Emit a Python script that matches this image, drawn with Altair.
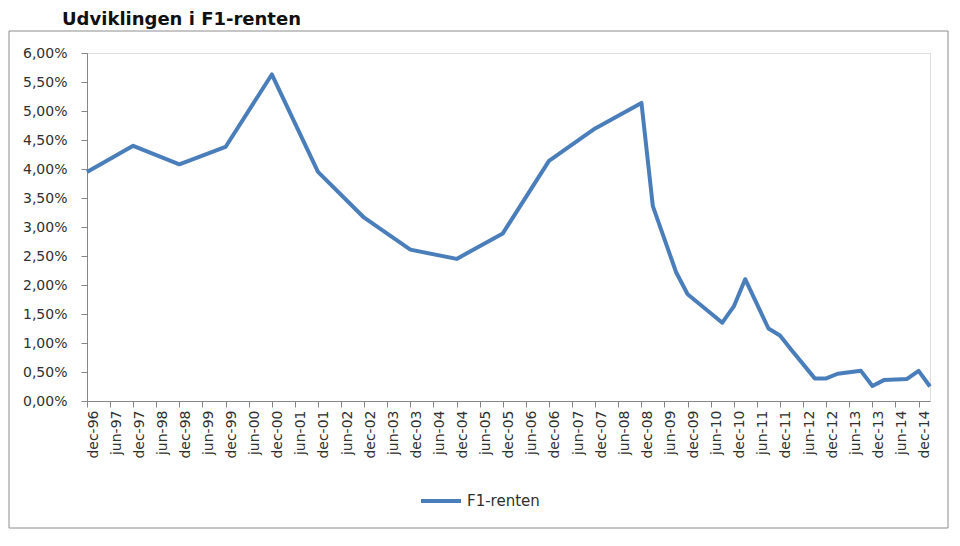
import altair as alt
import pandas as pd

# ---- data ----
dates = [
    "1996-12-01", "1997-12-01", "1998-12-01", "1999-12-01", "2000-12-01",
    "2001-12-01", "2002-12-01", "2003-12-01", "2004-12-01", "2005-12-01",
    "2006-12-01", "2007-12-01", "2008-12-01", "2009-03-01", "2009-09-01",
    "2009-12-01", "2010-09-01", "2010-12-01", "2011-03-01", "2011-09-01",
    "2011-12-01", "2012-03-01", "2012-09-01", "2012-12-01", "2013-03-01",
    "2013-09-01", "2013-12-01", "2014-03-01", "2014-09-01", "2014-12-01",
    "2015-03-01",
]
rates = [
    3.95, 4.40, 4.08, 4.38, 5.63,
    3.95, 3.16, 2.61, 2.45, 2.89,
    4.14, 4.70, 5.14, 3.36, 2.22,
    1.84, 1.35, 1.63, 2.10, 1.25,
    1.13, 0.88, 0.39, 0.39, 0.47,
    0.52, 0.26, 0.36, 0.38, 0.52,
    0.25,
]
series_name = "F1-renten"
title_text = "Udviklingen i F1-renten"
tick_dates = [f"{y}-{m:02d}-01" for y in range(1996, 2015) for m in (6, 12)][1:]
y_ticks = [0, 0.005, 0.01, 0.015, 0.02, 0.025, 0.03, 0.035, 0.04, 0.045, 0.05, 0.055, 0.06]
x_start, x_end = "1996-12-01", "2015-03-01"

df = pd.DataFrame({"date": dates, "rate": [r / 100 for r in rates], "series": series_name})


def ms(s):
    return int(pd.Timestamp(s, tz="UTC").value // 10**6)


FONT = "DejaVu Sans"
AXIS_GRAY = "#868686"
TEXT = "#303030"
LINE = "#4a7ebb"

line = alt.Chart(df).mark_line(strokeWidth=4, strokeJoin="round").encode(
    x=alt.X(
        "date:T",
        scale=alt.Scale(type="utc", domain=[ms(x_start), ms(x_end)]),
        axis=alt.Axis(
            title=None,
            values=[ms(d) for d in tick_dates],
            labelExpr="lower(utcFormat(datum.value, '%b-%y'))",
            labelAngle=-90,
            labelOffset=6,
            labelPadding=3,
            labelFont=FONT,
            labelFontSize=14,
            labelColor=TEXT,
            tickSize=6,
            tickColor=AXIS_GRAY,
            domainColor=AXIS_GRAY,
            grid=False,
            labelOverlap=False,
        ),
    ),
    y=alt.Y(
        "rate:Q",
        scale=alt.Scale(domain=[0, 0.06], nice=False, zero=True),
        axis=alt.Axis(
            title=None,
            values=y_ticks,
            labelExpr="replace(format(datum.value, '.2%'), '.', ',')",
            labelFont=FONT,
            labelFontSize=14,
            labelColor=TEXT,
            labelPadding=14,
            tickSize=6,
            tickColor=AXIS_GRAY,
            domainColor=AXIS_GRAY,
            grid=False,
        ),
    ),
    color=alt.Color(
        "series:N",
        scale=alt.Scale(range=[LINE]),
        legend=alt.Legend(
            title=None,
            orient="none",
            legendX=332,
            legendY=426,
            symbolType="stroke",
            symbolSize=1600,
            symbolStrokeWidth=4,
            labelFont=FONT,
            labelFontSize=15,
            labelColor=TEXT,
            padding=0,
        ),
    ),
)

frame = alt.Chart(pd.DataFrame({"k": [0]})).mark_rect(
    fill="white", fillOpacity=0, stroke="#8c8c8c", strokeWidth=1
).encode(
    x=alt.value(-78), x2=alt.value(861), y=alt.value(-22), y2=alt.value(475)
)

chart = alt.layer(frame, line).properties(
    width=843,
    height=348,
    padding={"left": 79, "top": 45, "right": 20, "bottom": 131},
    autosize=alt.AutoSizeParams(type="none"),
    title=alt.TitleParams(
        title_text,
        anchor="start",
        frame="group",
        dx=-25,
        dy=2,
        font=FONT,
        fontSize=18,
        fontWeight="bold",
        color="#111111",
    ),
).configure_view(stroke=None).configure(background="white")

chart.save("out.html", embed_options={"renderer": "svg", "actions": False})
